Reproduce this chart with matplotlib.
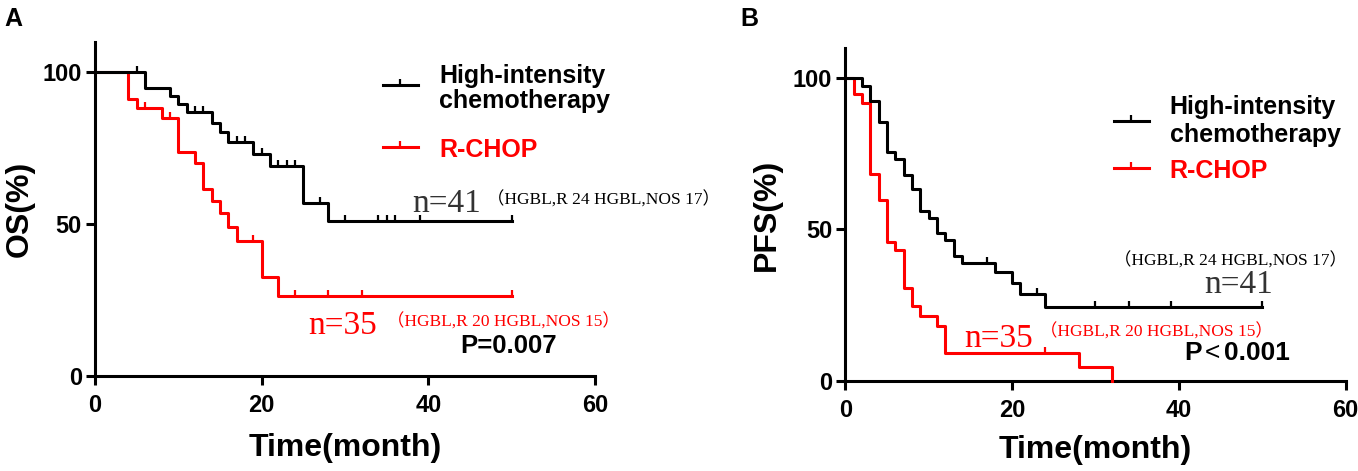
import matplotlib
matplotlib.use('Agg')
import matplotlib.pyplot as plt
import numpy as np
from matplotlib.path import Path

# ---- panel A: overall survival ----
os_hi_t = [0, 6, 9, 10, 11, 14, 15, 16, 19, 21, 25, 28, 50]
os_hi_s = [100, 94.7, 92.3, 89.5, 87.0, 83.4, 80.4, 77.0, 73.0, 69.0, 57.0, 50.9, 50.9]
os_hi_cens = [5, 12, 13, 17, 18, 20, 22, 23, 24, 27, 30, 34, 35, 36, 39, 50]

os_rc_t = [0, 4, 5, 8, 10, 12, 13, 14, 15, 16, 17, 20, 22, 50]
os_rc_s = [100, 91.2, 88.4, 85.1, 73.7, 70.1, 61.6, 57.7, 53.5, 48.9, 44.3, 32.7, 26.3, 26.3]
os_rc_cens = [6, 9, 19, 24, 28, 32, 50]

# ---- panel B: progression-free survival ----
pfs_hi_t = [0, 2, 3, 4, 5, 6, 7, 8, 9, 10, 11, 12, 13, 14, 18, 20, 21, 24, 50]
pfs_hi_s = [100, 97.6, 92.6, 85.4, 75.6, 73.3, 68.1, 63.5, 56.0, 53.8, 48.9, 46.4,
            41.2, 39.0, 35.9, 32.2, 28.8, 24.5, 24.5]
pfs_hi_cens = [17, 23, 30, 34, 39, 50]

pfs_rc_t = [0, 1, 2, 3, 4, 5, 6, 7, 8, 9, 11, 12, 28, 32]
pfs_rc_s = [100, 94.8, 91.8, 68.4, 59.9, 45.8, 43.1, 30.5, 24.7, 21.4, 18.1, 9.3, 4.6, 0]
pfs_rc_cens = [24]

group_labels = ['High-intensity\nchemotherapy', 'R-CHOP']
n_hi = 'n=41'
n_rc = 'n=35'
sub_hi = '（HGBL,R 24 HGBL,NOS 17）'
sub_rc = '（HGBL,R 20 HGBL,NOS 15）'
p_os = 'P=0.007'
p_pfs = ['P', '<', '0.001']

RED = '#ff0000'
SERIF = ['Liberation Serif', 'Noto Sans CJK SC']
plt.rcParams['font.family'] = ['Liberation Sans', 'Noto Sans CJK SC']
plt.rcParams['font.weight'] = 'bold'

tick_mark = Path([[0, 0], [0, 1]], [Path.MOVETO, Path.LINETO])


def surv_at(t, s, c):
    idx = np.searchsorted(t, c, side='right') - 1
    return np.asarray(s)[idx]


def km(ax, t, s, cens, color):
    ax.step(t, s, where='post', color=color, lw=2.2, clip_on=False, zorder=3)
    ax.plot(cens, surv_at(t, s, cens), ls='none', marker=tick_mark, ms=8,
            mew=1.6, color=color, clip_on=False, zorder=3)


def key(ax, x0, x1, y, color):
    ax.plot([x0, x1], [y, y], color=color, lw=2.2, clip_on=False)
    ax.plot([(x0 + x1) / 2], [y], marker=tick_mark, ms=8, mew=1.6,
            color=color, clip_on=False)


def style(ax, ylabel, ylab_x, xlab_y):
    ax.set_xlim(0, 60)
    ax.set_ylim(0, 110)
    ax.set_xticks([0, 20, 40, 60])
    ax.set_yticks([0, 50, 100])
    for sp in ['top', 'right']:
        ax.spines[sp].set_visible(False)
    for sp in ['left', 'bottom']:
        ax.spines[sp].set_linewidth(2.2)
    ax.tick_params(width=2.2, length=6.5, labelsize=17)
    ax.tick_params(axis='x', pad=6.5)
    ax.tick_params(axis='y', pad=3)
    ax.set_xlabel('Time(month)', fontsize=23, fontweight='bold')
    ax.set_ylabel(ylabel, fontsize=23, fontweight='bold')
    ax.yaxis.set_label_coords(ylab_x, 0.5)
    ax.xaxis.set_label_coords(0.5, xlab_y)


fig = plt.figure(figsize=(13.58, 4.71), dpi=100)
axA = fig.add_axes([0.0700, 0.2023, 0.3682, 0.7086])
axB = fig.add_axes([0.6226, 0.1917, 0.3682, 0.7063])

# panel A
km(axA, os_rc_t, os_rc_s, os_rc_cens, RED)
km(axA, os_hi_t, os_hi_s, os_hi_cens, 'black')
style(axA, 'OS(%)', -0.12, -0.172)
key(axA, 34.5, 38.7, 95.8, 'black')
key(axA, 34.5, 38.7, 75.3, RED)
axA.text(41.3, 88.1, group_labels[0], fontsize=18, va='baseline', linespacing=1.05)
axA.text(41.3, 72.2, group_labels[1], fontsize=18, va='baseline', color=RED)
axA.text(38.0, 54.0, n_hi, family=SERIF, fontweight='normal', fontsize=24,
         color='#333333', va='baseline')
axA.text(47.0, 56.3, sub_hi, family=SERIF, fontweight='normal', fontsize=12.5,
         va='baseline')
axA.text(25.6, 13.7, n_rc, family=SERIF, fontweight='normal', fontsize=24,
         color=RED, va='baseline')
axA.text(35.0, 16.2, sub_rc, family=SERIF, fontweight='normal', fontsize=12.5,
         color=RED, va='baseline')
axA.text(43.8, 7.4, p_os, fontsize=18.5, va='baseline')

# panel B
km(axB, pfs_rc_t, pfs_rc_s, pfs_rc_cens, RED)
km(axB, pfs_hi_t, pfs_hi_s, pfs_hi_cens, 'black')
style(axB, 'PFS(%)', -0.127, -0.163)
key(axB, 32.2, 36.4, 86.0, 'black')
key(axB, 32.2, 36.4, 70.2, RED)
axB.text(38.9, 79.0, group_labels[0], fontsize=18, va='baseline', linespacing=1.2)
axB.text(38.9, 66.9, group_labels[1], fontsize=18, va='baseline', color=RED)
axB.text(32.2, 38.2, sub_hi, family=SERIF, fontweight='normal', fontsize=12.5,
         va='baseline')
axB.text(43.0, 28.9, n_hi, family=SERIF, fontweight='normal', fontsize=24,
         color='#333333', va='baseline')
axB.text(14.2, 11.2, n_rc, family=SERIF, fontweight='normal', fontsize=24,
         color=RED, va='baseline')
axB.text(23.4, 14.5, sub_rc, family=SERIF, fontweight='normal', fontsize=12.5,
         color=RED, va='baseline')
# "P < 0.001": thin less-than sign between bold parts
axB.text(40.6, 6.8, p_pfs[0], fontsize=19, va='baseline')
axB.text(43.1, 6.8, p_pfs[1], fontsize=19, fontweight='normal', va='baseline')
axB.text(45.4, 6.8, p_pfs[2], fontsize=19, va='baseline')

fig.text(0.003, 0.985, 'A', fontsize=18, fontweight='bold', va='top')
fig.text(0.545, 0.985, 'B', fontsize=18, fontweight='bold', va='top')

fig.savefig('out.png', dpi=100)
